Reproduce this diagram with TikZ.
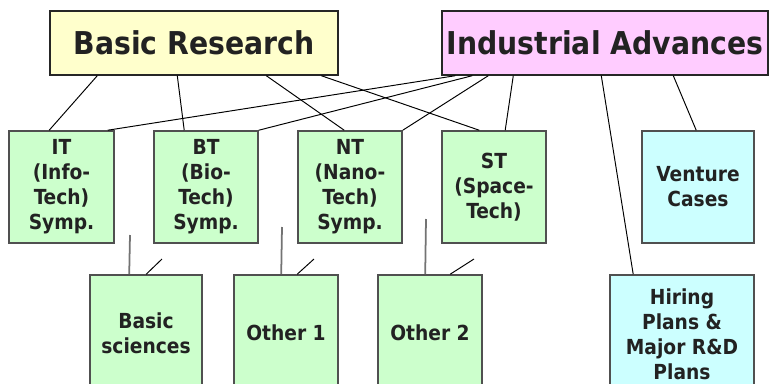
\documentclass[tikz,border=0pt]{standalone}
\usepackage{fontspec}
\setmainfont{DejaVu Sans Condensed}
\usepackage{tikz}
\usetikzlibrary{positioning,calc}
\definecolor{brfill}{HTML}{FFFFCC}
\definecolor{iafill}{HTML}{FFCCFF}
\definecolor{techfill}{HTML}{CCFFCC}
\definecolor{planfill}{HTML}{CCFFFF}
\definecolor{boxline}{HTML}{505050}
\definecolor{txt}{HTML}{222222}
\tikzstyle{topbox}=[draw=black!85,line width=0.8pt,minimum height=64*0.02cm,inner sep=0pt,text=txt,font=\fontsize{17.9}{20}\selectfont\bfseries]
\tikzstyle{techbox}=[draw=boxline,line width=0.9pt,fill=techfill,minimum width=104*0.02cm,minimum height=112*0.02cm,inner sep=0pt,align=center,text=txt,font=\fontsize{11.8}{14.2}\selectfont\bfseries]
\tikzstyle{planbox}=[techbox,fill=planfill]
\tikzstyle{link}=[black,line width=0.55pt]
\tikzstyle{stub}=[black!55,line width=1pt]

\begin{document}
\begin{tikzpicture}[x=0.02cm,y=-0.02cm]
      \clip (0,0) rectangle (769,383);
      % top row
      \node[topbox,fill=brfill,minimum width=288*0.02cm] at (194,43) (br) {Basic Research};
      \node[topbox,fill=iafill,minimum width=326*0.02cm] at (605,43) (ia) {Industrial Advances};
      % symposia
      \node[techbox,minimum width=105*0.02cm] at (61.5,187) (it) {IT\\(Info-\\Tech)\\Symp.};
      \node[techbox] at (206,187) (bt) {BT\\(Bio-\\Tech)\\Symp.};
      \node[techbox] at (350,187) (nt) {NT\\(Nano-\\Tech)\\Symp.};
      \node[techbox] at (494,187) (st) {ST\\(Space-\\Tech)};
      \node[planbox,minimum width=112*0.02cm] at (698,187) (vc) {Venture\\Cases};
      % bottom row
      \node[techbox,minimum width=112*0.02cm,minimum height=116*0.02cm] at (146,333) (bs) {Basic\\sciences};
      \node[techbox,minimum height=116*0.02cm] at (286,333) (o1) {Other 1};
      \node[techbox,minimum height=116*0.02cm] at (430,333) (o2) {Other 2};
      \node[planbox,minimum width=144*0.02cm,minimum height=118*0.02cm] at (682,334) (hr) {Hiring\\Plans \&\\Major R\&D\\Plans};
      % from basic research
      \draw[link] ($(br.south west)+(48,0)$) edge ($(it.north west)+(41,0)$);
      \draw[link] ($(br.south west)+(128,0)$) edge ($(bt.north west)+(31,0)$);
      \draw[link] ($(br.south west)+(217,0)$) edge ($(nt.north west)+(47,0)$);
      \draw[link] ($(br.south west)+(272,0)$) edge ($(st.north west)+(38,0)$);
      % from industrial advances
      \draw[link] ($(ia.south west)+(14,0)$) edge ($(it.north east)+(-7,0)$);
      \draw[link] ($(ia.south west)+(31,0)$) edge (bt.north east);
      \draw[link] ($(ia.south west)+(47,0)$) edge (nt.north east);
      \draw[link] ($(ia.south west)+(72,0)$) edge ($(st.north west)+(64,0)$);
      \draw[link] ($(ia.south west)+(160,0)$) edge ($(hr.north west)+(24,0)$);
      \draw[link] ($(ia.south west)+(232,0)$) edge ($(vc.north west)+(55,0)$);
      % loose ends above the bottom row
      \coordinate (bsup) at (130,235);
      \coordinate (bsdg) at (162,259);
      \coordinate (o1up) at (282,227);
      \coordinate (o1dg) at (314,259);
      \coordinate (o2up) at (426,219);
      \coordinate (o2dg) at (474,259);
      \draw[stub] ($(bs.north west)+(40,0)$) -- (bsup);
      \draw[link] ($(bs.north west)+(57,0)$) -- (bsdg);
      \draw[stub] ($(o1.north west)+(48,0)$) -- (o1up);
      \draw[link] ($(o1.north west)+(64,0)$) -- (o1dg);
      \draw[stub] ($(o2.north west)+(48,0)$) -- (o2up);
      \draw[link] ($(o2.north west)+(73,0)$) -- (o2dg);
\end{tikzpicture}
\end{document}
